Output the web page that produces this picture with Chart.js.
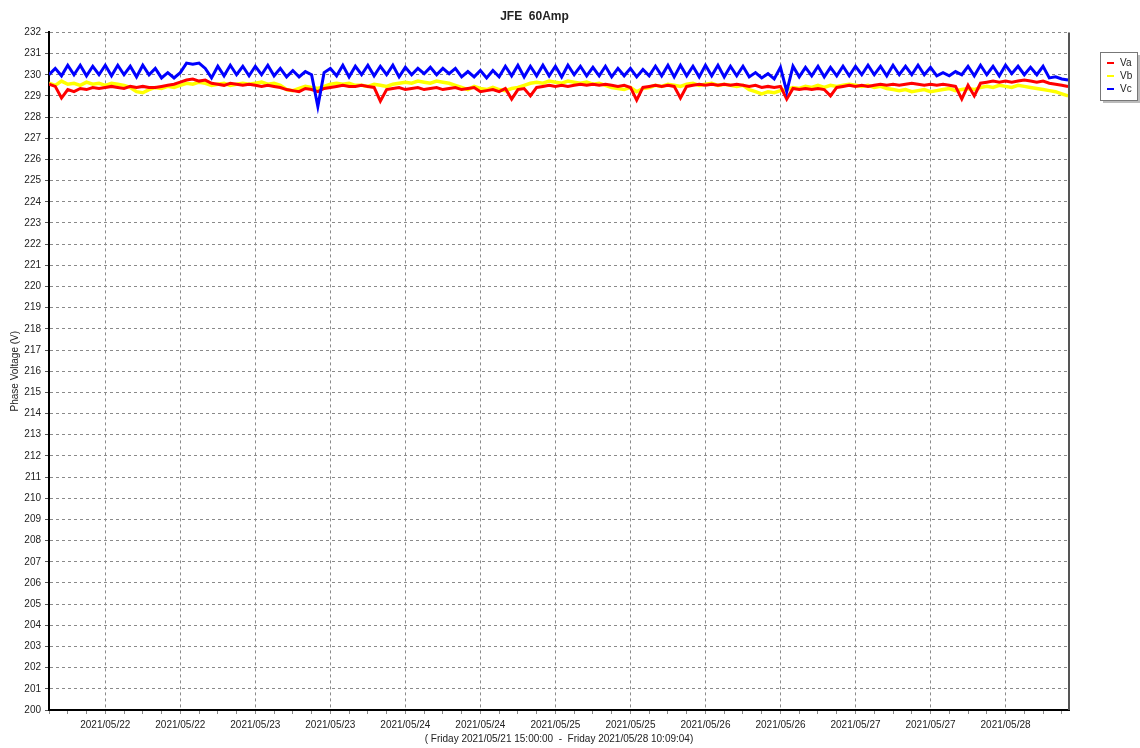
<!DOCTYPE html>
<html>
<head>
<meta charset="utf-8">
<title>JFE 60Amp</title>
<script src="https://cdn.jsdelivr.net/npm/chart.js@4/dist/chart.umd.min.js"></script>
<style>
  html, body { margin: 0; padding: 0; background: #fff; }
  #wrap { width: 1140px; height: 748px; }
</style>
</head>
<body>
<div id="wrap"><canvas id="voltChart" width="1140" height="748"></canvas></div>
<script>
// start of the record: Friday 2021/05/21 15:00:00, end 2021/05/28 10:09:04 (163.15 h)
const startUtc = Date.UTC(2021, 4, 21, 15, 0, 0);
const spanHours = 163.15;

// sample times, hours after the start
const hours = [];
for (let h = 0; h <= 163; h++) hours.push(h);

// x ticks every 3 h, labelled/gridded every 12 h (00:00 and 12:00)
const xTicks = [];
for (let h = 0; h <= 162; h += 3) xTicks.push(h);

const va = [
  229.55, 229.45, 228.9, 229.3, 229.2, 229.35, 229.3, 229.4, 229.35, 229.4,
  229.45, 229.4, 229.35, 229.45, 229.4, 229.45, 229.4, 229.4, 229.45, 229.5,
  229.55, 229.65, 229.75, 229.8, 229.7, 229.75, 229.6, 229.55, 229.5, 229.6,
  229.55, 229.5, 229.55, 229.5, 229.45, 229.5, 229.45, 229.4, 229.3, 229.25,
  229.2, 229.35, 229.3, 229.2, 229.35, 229.4, 229.45, 229.5, 229.45, 229.45,
  229.5, 229.45, 229.4, 228.75, 229.3, 229.35, 229.4, 229.3, 229.35, 229.4,
  229.3, 229.35, 229.4, 229.3, 229.35, 229.4, 229.3, 229.35, 229.4, 229.2,
  229.25, 229.3, 229.2, 229.35, 228.85, 229.3, 229.35, 229.0, 229.4, 229.45,
  229.5, 229.45, 229.5, 229.45, 229.5, 229.55, 229.5, 229.55, 229.5, 229.55,
  229.5, 229.45, 229.5, 229.4, 228.8, 229.4, 229.45, 229.5, 229.45, 229.5,
  229.45, 228.9, 229.45, 229.5, 229.55, 229.5, 229.55, 229.5, 229.55, 229.5,
  229.55, 229.5, 229.45, 229.5, 229.4, 229.45, 229.4, 229.45, 228.85, 229.35,
  229.3, 229.35, 229.3, 229.35, 229.3, 229.0, 229.4, 229.45, 229.5, 229.45,
  229.5, 229.45, 229.5, 229.55, 229.5, 229.55, 229.5, 229.55, 229.6, 229.55,
  229.5, 229.55, 229.5, 229.55, 229.5, 229.45, 228.85, 229.5, 229.0, 229.6,
  229.65, 229.7, 229.65, 229.7, 229.65, 229.7, 229.75, 229.7, 229.65, 229.7,
  229.6, 229.55, 229.5, 229.45
];

const vb = [
  229.6, 229.5, 229.7, 229.55, 229.6, 229.5, 229.65, 229.55, 229.6, 229.5,
  229.6, 229.55, 229.5, 229.4, 229.2, 229.15, 229.3, 229.4, 229.35, 229.45,
  229.4, 229.5, 229.6, 229.55, 229.65, 229.6, 229.5, 229.55, 229.6, 229.5,
  229.55, 229.6, 229.55, 229.6, 229.65, 229.55, 229.6, 229.5, 229.3, 229.25,
  229.35, 229.45, 229.4, 229.35, 229.45, 229.55, 229.6, 229.55, 229.6, 229.5,
  229.5, 229.45, 229.55, 229.5, 229.45, 229.55, 229.6, 229.65, 229.6, 229.7,
  229.65, 229.6, 229.7, 229.65, 229.6, 229.5, 229.4, 229.3, 229.45, 229.35,
  229.3, 229.4, 229.3, 229.25, 229.35, 229.4, 229.5, 229.6, 229.65, 229.6,
  229.7, 229.65, 229.6, 229.7, 229.65, 229.6, 229.65, 229.55, 229.6, 229.5,
  229.4, 229.35, 229.3, 229.4, 229.2, 229.35, 229.4, 229.5, 229.45, 229.55,
  229.5, 229.45, 229.55, 229.6, 229.5, 229.55, 229.6, 229.5, 229.55, 229.5,
  229.45, 229.5, 229.3, 229.2, 229.1, 229.2, 229.15, 229.25, 229.3, 229.4,
  229.35, 229.45, 229.4, 229.5, 229.4, 229.5, 229.45, 229.5, 229.55, 229.5,
  229.45, 229.5, 229.4, 229.45, 229.35, 229.3, 229.25, 229.3, 229.2, 229.25,
  229.3, 229.2, 229.25, 229.3, 229.35, 229.25, 229.3, 229.35, 229.3, 229.4,
  229.45, 229.4, 229.5, 229.45, 229.4, 229.5, 229.45, 229.4, 229.35, 229.3,
  229.25, 229.2, 229.1, 229.0
];

const vc = [
  230.0, 230.3, 229.95, 230.45, 230.0, 230.45, 229.95, 230.4, 230.0, 230.45,
  229.95, 230.45, 230.0, 230.4, 229.9, 230.45, 230.0, 230.3, 229.85, 230.1,
  229.85, 230.1, 230.55, 230.5, 230.55, 230.3, 229.85, 230.4, 229.95, 230.45,
  230.0, 230.4, 229.95, 230.4, 230.0, 230.45, 229.95, 230.3, 229.9, 230.2,
  229.9, 230.15, 230.0, 228.5, 230.1, 230.3, 229.95, 230.45, 229.9, 230.4,
  230.0, 230.45, 229.95, 230.4, 230.0, 230.45, 229.9, 230.35, 230.0, 230.3,
  230.05, 230.35, 230.0, 230.3, 230.05, 230.3, 229.9, 230.15, 229.9, 230.2,
  229.85, 230.2, 229.9, 230.4, 229.95, 230.45, 229.9, 230.4, 229.95, 230.45,
  229.95, 230.4, 229.9, 230.45, 230.0, 230.4, 229.95, 230.35, 229.95, 230.4,
  229.9, 230.3, 229.95, 230.3, 229.9, 230.25, 229.95, 230.4, 229.95, 230.45,
  229.9, 230.45, 229.95, 230.4, 229.9, 230.45, 229.95, 230.45, 229.9, 230.4,
  229.95, 230.4, 229.9, 230.1, 229.85, 230.05, 229.8, 230.35, 229.2, 230.4,
  229.9, 230.35, 229.95, 230.4, 229.9, 230.35, 229.95, 230.4, 229.95, 230.4,
  230.0, 230.45, 230.0, 230.4, 229.95, 230.45, 230.0, 230.4, 230.0, 230.45,
  230.0, 230.35, 229.95, 230.1, 229.95, 230.15, 230.0, 230.4, 229.95, 230.45,
  230.0, 230.4, 229.95, 230.45, 230.05, 230.4, 230.0, 230.35, 230.0, 230.4,
  229.85, 229.9, 229.8, 229.75
];

const fontFamily = '"Liberation Sans", Arial, sans-serif';

function pts(values) {
  return values.map((v, i) => ({ x: hours[i], y: v }));
}

function dayLabel(h) {
  const d = new Date(startUtc + h * 3600000);
  const mm = String(d.getUTCMonth() + 1).padStart(2, "0");
  const dd = String(d.getUTCDate()).padStart(2, "0");
  return d.getUTCFullYear() + "/" + mm + "/" + dd;
}

function isMajor(h) {
  return (h - 9) % 12 === 0;
}

// box round the chart area + little legend on the right
const framePlugin = {
  id: "frame",
  afterDraw(chart) {
    const { ctx, chartArea: a } = chart;
    ctx.save();
    ctx.strokeStyle = "#555";
    ctx.lineWidth = 2;
    ctx.beginPath();
    ctx.moveTo(a.right, a.top);
    ctx.lineTo(a.right, a.bottom);
    ctx.stroke();

    const lx = 1100, ly = 52, lw = 37, lh = 48;
    ctx.fillStyle = "#bbb";
    ctx.fillRect(lx + 3, ly + 3, lw, lh);
    ctx.fillStyle = "#fff";
    ctx.fillRect(lx, ly, lw, lh);
    ctx.strokeStyle = "#777";
    ctx.lineWidth = 1;
    ctx.strokeRect(lx + 0.5, ly + 0.5, lw, lh);

    ctx.font = "10px " + fontFamily;
    ctx.textBaseline = "middle";
    chart.data.datasets.forEach((ds, i) => {
      const y = ly + 11 + i * 13;
      ctx.strokeStyle = ds.borderColor;
      ctx.lineWidth = 2;
      ctx.beginPath();
      ctx.moveTo(lx + 7, y);
      ctx.lineTo(lx + 14, y);
      ctx.stroke();
      ctx.fillStyle = "#222";
      ctx.fillText(ds.label, lx + 20, y);
    });
    ctx.restore();
  }
};

const chart = new Chart(document.getElementById("voltChart"), {
  type: "line",
  data: {
    datasets: [
      { label: "Va", data: pts(va), borderColor: "#ff0000", borderWidth: 3, order: 1 },
      { label: "Vb", data: pts(vb), borderColor: "#ffff00", borderWidth: 3.5, order: 2 },
      { label: "Vc", data: pts(vc), borderColor: "#0000ff", borderWidth: 3, order: 0 }
    ]
  },
  options: {
    responsive: false,
    animation: false,
    events: [],
    layout: { padding: { left: 0, right: 71, top: 0, bottom: 0 } },
    elements: {
      line: { tension: 0 },
      point: { radius: 0 }
    },
    plugins: {
      legend: { display: false },
      tooltip: { enabled: false },
      title: {
        display: true,
        text: "JFE  60Amp",
        color: "#222",
        font: { family: fontFamily, size: 12, weight: "bold" },
        padding: { top: 9, bottom: 9 }
      }
    },
    scales: {
      x: {
        type: "linear",
        min: 0,
        max: spanHours,
        afterBuildTicks: axis => { axis.ticks = xTicks.map(v => ({ value: v })); },
        afterFit: axis => { axis.height = 38; },
        ticks: {
          autoSkip: false,
          maxRotation: 0,
          padding: 5,
          color: "#222",
          font: { family: fontFamily, size: 10 },
          callback: v => isMajor(v) ? dayLabel(v) : ""
        },
        grid: {
          color: ctx => isMajor(ctx.tick ? ctx.tick.value : -1) ? "#8a8a8a" : "rgba(0,0,0,0)",
          tickColor: "#8a8a8a",
          tickLength: 4,
          lineWidth: 1
        },
        border: { color: "#000", width: 2, dash: [3, 3] },
        title: {
          display: true,
          text: "( Friday 2021/05/21 15:00:00  -  Friday 2021/05/28 10:09:04)",
          color: "#222",
          font: { family: fontFamily, size: 10 },
          padding: { top: 0, bottom: 3 }
        }
      },
      y: {
        min: 200,
        max: 232,
        afterFit: axis => { axis.width = 49; },
        ticks: {
          stepSize: 1,
          autoSkip: false,
          padding: 4,
          color: "#222",
          font: { family: fontFamily, size: 10 }
        },
        grid: {
          color: "#8a8a8a",
          tickColor: "#555",
          tickLength: 4,
          lineWidth: 1
        },
        border: { color: "#000", width: 2, dash: [3, 3] },
        title: {
          display: true,
          text: "Phase Voltage (V)",
          color: "#222",
          font: { family: fontFamily, size: 10 },
          padding: { top: 9, bottom: 0 }
        }
      }
    }
  },
  plugins: [framePlugin]
});
</script>
</body>
</html>
